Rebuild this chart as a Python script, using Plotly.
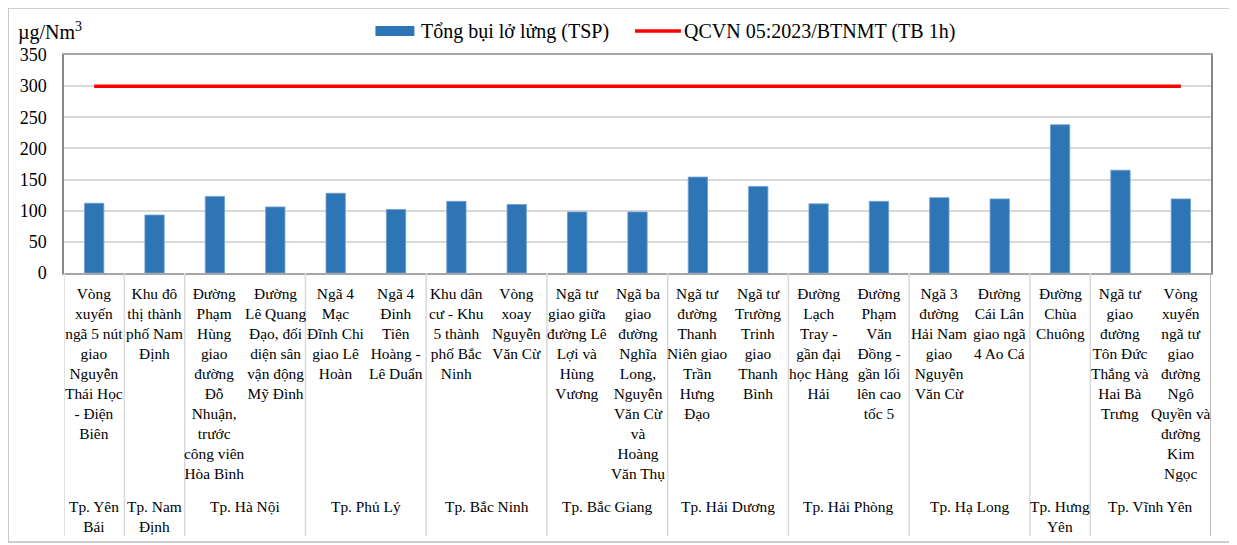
import plotly.graph_objects as go

# ---- data ----
sites = [
    "Vòng<br>xuyến<br>ngã 5 nút<br>giao<br>Nguyễn<br>Thái Học<br>- Điện<br>Biên",
    "Khu đô<br>thị thành<br>phố Nam<br>Định",
    "Đường<br>Phạm<br>Hùng<br>giao<br>đường<br>Đỗ<br>Nhuận,<br>trước<br>công viên<br>Hòa Bình",
    "Đường<br>Lê Quang<br>Đạo, đối<br>diện sân<br>vận động<br>Mỹ Đình",
    "Ngã 4<br>Mạc<br>Đĩnh Chi<br>giao Lê<br>Hoàn",
    "Ngã 4<br>Đinh<br>Tiên<br>Hoàng -<br>Lê Duẩn",
    "Khu dân<br>cư - Khu<br>5 thành<br>phố Bắc<br>Ninh",
    "Vòng<br>xoay<br>Nguyễn<br>Văn Cừ",
    "Ngã tư<br>giao giữa<br>đường Lê<br>Lợi và<br>Hùng<br>Vương",
    "Ngã ba<br>giao<br>đường<br>Nghĩa<br>Long,<br>Nguyễn<br>Văn Cừ<br>và<br>Hoàng<br>Văn Thụ",
    "Ngã tư<br>đường<br>Thanh<br>Niên giao<br>Trần<br>Hưng<br>Đạo",
    "Ngã tư<br>Trường<br>Trinh<br>giao<br>Thanh<br>Bình",
    "Đường<br>Lạch<br>Tray -<br>gần đại<br>học Hàng<br>Hải",
    "Đường<br>Phạm<br>Văn<br>Đồng -<br>gần lối<br>lên cao<br>tốc 5",
    "Ngã 3<br>đường<br>Hải Nam<br>giao<br>Nguyễn<br>Văn Cừ",
    "Đường<br>Cái Lân<br>giao ngã<br>4 Ao Cá",
    "Đường<br>Chùa<br>Chuông",
    "Ngã tư<br>giao<br>đường<br>Tôn Đức<br>Thắng và<br>Hai Bà<br>Trưng",
    "Vòng<br>xuyến<br>ngã tư<br>giao<br>đường<br>Ngô<br>Quyền và<br>đường<br>Kim<br>Ngọc",
]
tsp = [112, 93, 123, 106, 128, 102, 115, 110, 98, 98, 154, 139, 111, 115, 121, 119, 238, 165, 119]
limit_value = 300

cities = ["Tp. Yên<br>Bái", "Tp. Nam<br>Định", "Tp. Hà Nội", "Tp. Phủ Lý", "Tp. Bắc Ninh",
          "Tp. Bắc Giang", "Tp. Hải Dương", "Tp. Hải Phòng", "Tp. Hạ Long",
          "Tp. Hưng<br>Yên", "Tp. Vĩnh Yên"]
city_counts = [1, 1, 2, 2, 2, 2, 2, 2, 2, 1, 2]

series_names = ["Tổng bụi lở lửng (TSP)", "QCVN 05:2023/BTNMT (TB 1h)"]
y_ticks = [0, 50, 100, 150, 200, 250, 300, 350]

BAR_COLOR = "#2E75B6"
LINE_COLOR = "#FF0000"
FONT = "Liberation Serif, Times New Roman, serif"
OFF = 8  # page body margin
W, H = 1237 - OFF, 545 - OFF
L = 62 - OFF
T = 55 - OFF
B = H - (273 - OFF)
R = W - (1211 - OFF)
plot_w = W - L - R
plot_h = H - T - B


def px_x(xr):
    return (xr - OFF - L) / plot_w


def px_y(yr):
    return (273 - yr) / plot_h


fig = go.Figure()
fig.add_trace(go.Bar(
    x=list(range(len(sites))), y=tsp, name=series_names[0],
    marker=dict(color=BAR_COLOR, line=dict(color="#6FA0D0", width=0.8)),
    width=0.32, showlegend=False,
))
fig.add_trace(go.Scatter(
    x=list(range(len(sites))), y=[limit_value] * len(sites), mode="lines",
    name=series_names[1], line=dict(color=LINE_COLOR, width=3.5), showlegend=False,
))

annotations = []
for i, s in enumerate(sites):
    annotations.append(dict(
        x=i, y=0, xref="x", yref="paper", text=s, showarrow=False,
        xanchor="center", yanchor="top", yshift=-10,
        font=dict(family=FONT, size=15.4, color="black"),
    ))

shapes = []
start = 0
bounds = [-0.5]
for c, n in zip(cities, city_counts):
    center = start + (n - 1) / 2
    annotations.append(dict(
        x=center, y=0, xref="x", yref="paper", text=c, showarrow=False,
        xanchor="center", yanchor="top", yshift=-223,
        font=dict(family=FONT, size=15.4, color="black"),
    ))
    start += n
    bounds.append(start - 0.5)

for k, b in enumerate(bounds):
    col = "#A6A6A6" if k == len(bounds) - 1 else "#D9D9D9"
    shapes.append(dict(type="line", xref="x", yref="paper", x0=b, x1=b, y0=0,
                       y1=px_y(536), line=dict(color=col, width=1.5)))

# outer frame
shapes.append(dict(type="rect", xref="paper", yref="paper",
                   x0=px_x(6), x1=px_x(1232), y0=px_y(542), y1=px_y(8),
                   line=dict(color="#BFBFBF", width=1.5), layer="below"))

# y unit title
annotations.append(dict(
    x=px_x(14), y=px_y(31), xref="paper", yref="paper",
    text="µg/Nm<sup>3</sup>", showarrow=False, xanchor="left", yanchor="middle",
    font=dict(family=FONT, size=20, color="black"),
))

# legend (drawn manually: wide bar key + line key)
LEG_Y = 31
shapes.append(dict(type="rect", xref="paper", yref="paper",
                   x0=px_x(374), x1=px_x(413), y0=px_y(LEG_Y + 5), y1=px_y(LEG_Y - 5),
                   fillcolor=BAR_COLOR, line=dict(width=0)))
shapes.append(dict(type="line", xref="paper", yref="paper",
                   x0=px_x(634), x1=px_x(680), y0=px_y(LEG_Y), y1=px_y(LEG_Y),
                   line=dict(color=LINE_COLOR, width=3.5)))
for name, xs in zip(series_names, [418, 681]):
    annotations.append(dict(
        x=px_x(xs), y=px_y(LEG_Y), xref="paper", yref="paper", text=name,
        showarrow=False, xanchor="left", yanchor="middle",
        font=dict(family=FONT, size=20, color="black"),
    ))

fig.update_layout(
    width=W, height=H,
    margin=dict(l=L, r=R, t=T, b=B),
    plot_bgcolor="white", paper_bgcolor="white",
    font=dict(family=FONT, color="black"),
    showlegend=False,
    xaxis=dict(range=[-0.5, len(sites) - 0.5], showticklabels=False, showgrid=False,
               zeroline=False, showline=True, linecolor="#A6A6A6", linewidth=1.5,
               mirror=True, ticks=""),
    yaxis=dict(range=[0, 350], tickvals=y_ticks, showgrid=True, gridcolor="#D9D9D9",
               gridwidth=1.5, zeroline=False, showline=True, linecolor="#868686",
               linewidth=1.5, mirror=True, ticks="", ticklabelstandoff=12,
               tickfont=dict(family=FONT, size=18, color="black")),
    annotations=annotations, shapes=shapes, bargap=0.68,
)
fig.write_html("out.html")
